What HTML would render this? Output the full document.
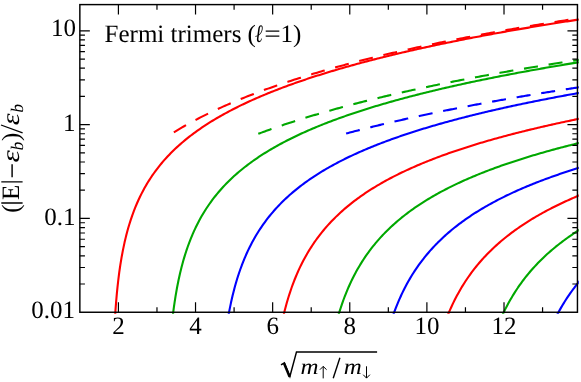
<!DOCTYPE html>
<html><head><meta charset="utf-8"><title>Fermi trimers</title>
<style>
html,body{margin:0;padding:0;background:#fff;}
svg{display:block;will-change:transform;text-rendering:geometricPrecision;font-family:"Liberation Serif",serif;font-size:25px;fill:#000;}
.c path{fill:none;stroke-width:2.1;stroke-linejoin:round;stroke-linecap:butt;}
.d path{fill:none;stroke-width:2.1;stroke-dasharray:14.1 10.81;stroke-linecap:butt;}
</style></head><body>
<svg width="581" height="382" viewBox="0 0 581 382">
<rect x="0" y="0" width="581" height="382" fill="#fff"/>
<defs><clipPath id="cp"><rect x="79.15" y="3.90" width="499.60" height="309.85"/></clipPath></defs>
<g class="d" clip-path="url(#cp)"><path d="M173.86 132.34 L175.91 131.09 L177.95 129.86 L180.00 128.65 L182.05 127.46 L184.09 126.28 L186.14 125.12 L188.19 123.98 L190.23 122.85 L192.28 121.74 L194.33 120.64 L196.37 119.56 L198.42 118.49 L200.46 117.44 L202.51 116.40 L204.56 115.37 L206.60 114.35 L208.65 113.35 L210.70 112.36 L212.74 111.38 L214.79 110.42 L216.84 109.46 L218.88 108.52 L220.93 107.58 L222.98 106.66 L225.02 105.75 L227.07 104.84 L229.12 103.95 L231.16 103.07 L233.21 102.20 L235.26 101.33 L237.30 100.48 L239.35 99.63 L241.40 98.79 L243.44 97.96 L245.49 97.14 L247.54 96.33 L249.58 95.53 L251.63 94.73 L253.68 93.94 L255.72 93.16 L257.77 92.38 L259.82 91.62 L261.86 90.86 L263.91 90.11 L265.96 89.36 L268.00 88.62 L270.05 87.89 L272.10 87.16 L274.14 86.44 L276.19 85.73 L278.24 85.02 L280.28 84.32 L282.33 83.63 L284.37 82.94 L286.42 82.26 L288.47 81.58 L290.51 80.91 L292.56 80.24 L294.61 79.58 L296.65 78.93 L298.70 78.27 L300.75 77.63 L302.79 76.99 L304.84 76.35 L306.89 75.72 L308.93 75.10 L310.98 74.48 L313.03 73.86 L315.07 73.25 L317.12 72.64 L319.17 72.04 L321.21 71.44 L323.26 70.85 L325.31 70.26 L327.35 69.68 L329.40 69.10 L331.45 68.52 L333.49 67.95 L335.54 67.38 L337.59 66.81 L339.63 66.25 L341.68 65.69 L343.73 65.14 L345.77 64.59 L347.82 64.05 L349.87 63.50 L351.91 62.97 L353.96 62.43 L356.01 61.90 L358.05 61.37 L360.10 60.85 L362.15 60.32 L364.19 59.81 L366.24 59.29 L368.29 58.78 L370.33 58.27 L372.38 57.77 L374.42 57.27 L376.47 56.77 L378.52 56.27 L380.56 55.78 L382.61 55.29 L384.66 54.80 L386.70 54.32 L388.75 53.83 L390.80 53.36 L392.84 52.88 L394.89 52.41 L396.94 51.94 L398.98 51.47 L401.03 51.00 L403.08 50.54 L405.12 50.08 L407.17 49.63 L409.22 49.17 L411.26 48.72 L413.31 48.27 L415.36 47.82 L417.40 47.38 L419.45 46.94 L421.50 46.50 L423.54 46.06 L425.59 45.62 L427.64 45.19 L429.68 44.76 L431.73 44.33 L433.78 43.91 L435.82 43.48 L437.87 43.06 L439.92 42.64 L441.96 42.23 L444.01 41.81 L446.06 41.40 L448.10 40.99 L450.15 40.58 L452.20 40.17 L454.24 39.77 L456.29 39.36 L458.33 38.96 L460.38 38.56 L462.43 38.17 L464.47 37.77 L466.52 37.38 L468.57 36.99 L470.61 36.60 L472.66 36.21 L474.71 35.82 L476.75 35.44 L478.80 35.06 L480.85 34.68 L482.89 34.30 L484.94 33.92 L486.99 33.55 L489.03 33.18 L491.08 32.80 L493.13 32.43 L495.17 32.07 L497.22 31.70 L499.27 31.33 L501.31 30.97 L503.36 30.61 L505.41 30.25 L507.45 29.89 L509.50 29.53 L511.55 29.18 L513.59 28.82 L515.64 28.47 L517.69 28.12 L519.73 27.77 L521.78 27.42 L523.83 27.08 L525.87 26.73 L527.92 26.39 L529.97 26.05 L532.01 25.71 L534.06 25.37 L536.11 25.03 L538.15 24.69 L540.20 24.36 L542.24 24.03 L544.29 23.69 L546.34 23.36 L548.38 23.03 L550.43 22.71 L552.48 22.38 L554.52 22.05 L556.57 21.73 L558.62 21.41 L560.66 21.08 L562.71 20.76 L564.76 20.44 L566.80 20.13 L568.85 19.81 L570.90 19.49 L572.94 19.18 L574.99 18.87 L577.04 18.56 L579.08 18.25 L581.13 17.94" stroke="#ff0000"/><path d="M258.27 133.82 L259.89 133.21 L261.51 132.61 L263.13 132.01 L264.76 131.41 L266.38 130.83 L268.00 130.24 L269.62 129.66 L271.25 129.08 L272.87 128.51 L274.49 127.94 L276.11 127.38 L277.74 126.82 L279.36 126.26 L280.98 125.70 L282.60 125.16 L284.23 124.61 L285.85 124.07 L287.47 123.53 L289.09 122.99 L290.72 122.46 L292.34 121.93 L293.96 121.41 L295.58 120.89 L297.21 120.37 L298.83 119.85 L300.45 119.34 L302.07 118.83 L303.70 118.33 L305.32 117.83 L306.94 117.33 L308.56 116.83 L310.18 116.34 L311.81 115.85 L313.43 115.36 L315.05 114.88 L316.67 114.39 L318.30 113.92 L319.92 113.44 L321.54 112.97 L323.16 112.50 L324.79 112.03 L326.41 111.56 L328.03 111.10 L329.65 110.64 L331.28 110.19 L332.90 109.73 L334.52 109.28 L336.14 108.83 L337.77 108.38 L339.39 107.94 L341.01 107.50 L342.63 107.06 L344.26 106.62 L345.88 106.18 L347.50 105.75 L349.12 105.32 L350.75 104.89 L352.37 104.47 L353.99 104.04 L355.61 103.62 L357.24 103.20 L358.86 102.78 L360.48 102.37 L362.10 101.95 L363.72 101.54 L365.35 101.13 L366.97 100.73 L368.59 100.32 L370.21 99.92 L371.84 99.52 L373.46 99.12 L375.08 98.72 L376.70 98.33 L378.33 97.94 L379.95 97.54 L381.57 97.15 L383.19 96.77 L384.82 96.38 L386.44 96.00 L388.06 95.62 L389.68 95.23 L391.31 94.86 L392.93 94.48 L394.55 94.10 L396.17 93.73 L397.80 93.36 L399.42 92.99 L401.04 92.62 L402.66 92.25 L404.29 91.89 L405.91 91.53 L407.53 91.16 L409.15 90.80 L410.78 90.45 L412.40 90.09 L414.02 89.73 L415.64 89.38 L417.26 89.03 L418.89 88.68 L420.51 88.33 L422.13 87.98 L423.75 87.63 L425.38 87.29 L427.00 86.94 L428.62 86.60 L430.24 86.26 L431.87 85.92 L433.49 85.59 L435.11 85.25 L436.73 84.91 L438.36 84.58 L439.98 84.25 L441.60 83.92 L443.22 83.59 L444.85 83.26 L446.47 82.93 L448.09 82.61 L449.71 82.28 L451.34 81.96 L452.96 81.64 L454.58 81.32 L456.20 81.00 L457.83 80.68 L459.45 80.36 L461.07 80.05 L462.69 79.73 L464.32 79.42 L465.94 79.11 L467.56 78.80 L469.18 78.49 L470.80 78.18 L472.43 77.87 L474.05 77.57 L475.67 77.26 L477.29 76.96 L478.92 76.66 L480.54 76.35 L482.16 76.05 L483.78 75.76 L485.41 75.46 L487.03 75.16 L488.65 74.86 L490.27 74.57 L491.90 74.27 L493.52 73.98 L495.14 73.69 L496.76 73.40 L498.39 73.11 L500.01 72.82 L501.63 72.53 L503.25 72.25 L504.88 71.96 L506.50 71.68 L508.12 71.39 L509.74 71.11 L511.37 70.83 L512.99 70.55 L514.61 70.27 L516.23 69.99 L517.86 69.71 L519.48 69.43 L521.10 69.16 L522.72 68.88 L524.35 68.61 L525.97 68.34 L527.59 68.06 L529.21 67.79 L530.83 67.52 L532.46 67.25 L534.08 66.98 L535.70 66.72 L537.32 66.45 L538.95 66.18 L540.57 65.92 L542.19 65.65 L543.81 65.39 L545.44 65.13 L547.06 64.87 L548.68 64.60 L550.30 64.34 L551.93 64.09 L553.55 63.83 L555.17 63.57 L556.79 63.31 L558.42 63.06 L560.04 62.80 L561.66 62.55 L563.28 62.29 L564.91 62.04 L566.53 61.79 L568.15 61.54 L569.77 61.29 L571.40 61.04 L573.02 60.79 L574.64 60.54 L576.26 60.29 L577.89 60.05 L579.51 59.80 L581.13 59.55" stroke="#00a800"/><path d="M346.11 133.54 L347.29 133.22 L348.47 132.91 L349.65 132.59 L350.83 132.28 L352.01 131.97 L353.19 131.66 L354.37 131.35 L355.55 131.05 L356.74 130.74 L357.92 130.44 L359.10 130.13 L360.28 129.83 L361.46 129.53 L362.64 129.23 L363.82 128.93 L365.00 128.63 L366.18 128.34 L367.37 128.04 L368.55 127.75 L369.73 127.45 L370.91 127.16 L372.09 126.87 L373.27 126.58 L374.45 126.29 L375.63 126.00 L376.81 125.72 L377.99 125.43 L379.18 125.14 L380.36 124.86 L381.54 124.58 L382.72 124.29 L383.90 124.01 L385.08 123.73 L386.26 123.45 L387.44 123.17 L388.62 122.90 L389.80 122.62 L390.99 122.34 L392.17 122.07 L393.35 121.80 L394.53 121.52 L395.71 121.25 L396.89 120.98 L398.07 120.71 L399.25 120.44 L400.43 120.17 L401.61 119.91 L402.80 119.64 L403.98 119.37 L405.16 119.11 L406.34 118.84 L407.52 118.58 L408.70 118.32 L409.88 118.06 L411.06 117.80 L412.24 117.54 L413.43 117.28 L414.61 117.02 L415.79 116.76 L416.97 116.51 L418.15 116.25 L419.33 115.99 L420.51 115.74 L421.69 115.49 L422.87 115.23 L424.05 114.98 L425.24 114.73 L426.42 114.48 L427.60 114.23 L428.78 113.98 L429.96 113.74 L431.14 113.49 L432.32 113.24 L433.50 113.00 L434.68 112.75 L435.86 112.51 L437.05 112.26 L438.23 112.02 L439.41 111.78 L440.59 111.54 L441.77 111.30 L442.95 111.06 L444.13 110.82 L445.31 110.58 L446.49 110.34 L447.67 110.10 L448.86 109.87 L450.04 109.63 L451.22 109.40 L452.40 109.16 L453.58 108.93 L454.76 108.70 L455.94 108.46 L457.12 108.23 L458.30 108.00 L459.48 107.77 L460.67 107.54 L461.85 107.31 L463.03 107.08 L464.21 106.86 L465.39 106.63 L466.57 106.40 L467.75 106.18 L468.93 105.95 L470.11 105.73 L471.30 105.50 L472.48 105.28 L473.66 105.05 L474.84 104.83 L476.02 104.61 L477.20 104.39 L478.38 104.17 L479.56 103.95 L480.74 103.73 L481.92 103.51 L483.11 103.29 L484.29 103.08 L485.47 102.86 L486.65 102.64 L487.83 102.43 L489.01 102.21 L490.19 102.00 L491.37 101.78 L492.55 101.57 L493.73 101.36 L494.92 101.14 L496.10 100.93 L497.28 100.72 L498.46 100.51 L499.64 100.30 L500.82 100.09 L502.00 99.88 L503.18 99.67 L504.36 99.46 L505.54 99.26 L506.73 99.05 L507.91 98.84 L509.09 98.64 L510.27 98.43 L511.45 98.23 L512.63 98.02 L513.81 97.82 L514.99 97.62 L516.17 97.41 L517.35 97.21 L518.54 97.01 L519.72 96.81 L520.90 96.61 L522.08 96.41 L523.26 96.21 L524.44 96.01 L525.62 95.81 L526.80 95.61 L527.98 95.41 L529.17 95.21 L530.35 95.02 L531.53 94.82 L532.71 94.62 L533.89 94.43 L535.07 94.23 L536.25 94.04 L537.43 93.85 L538.61 93.65 L539.79 93.46 L540.98 93.27 L542.16 93.07 L543.34 92.88 L544.52 92.69 L545.70 92.50 L546.88 92.31 L548.06 92.12 L549.24 91.93 L550.42 91.74 L551.60 91.55 L552.79 91.36 L553.97 91.17 L555.15 90.99 L556.33 90.80 L557.51 90.61 L558.69 90.43 L559.87 90.24 L561.05 90.06 L562.23 89.87 L563.41 89.69 L564.60 89.50 L565.78 89.32 L566.96 89.14 L568.14 88.95 L569.32 88.77 L570.50 88.59 L571.68 88.41 L572.86 88.23 L574.04 88.04 L575.22 87.86 L576.41 87.68 L577.59 87.50 L578.77 87.33 L579.95 87.15 L581.13 86.97" stroke="#0000ff"/></g>
<g class="c" clip-path="url(#cp)"><path d="M113.78 341.74 L113.83 340.49 L114.16 332.96 L114.54 325.43 L114.98 317.90 L115.33 312.53 L115.47 310.37 L116.04 302.84 L116.69 295.31 L116.87 293.36 L117.42 287.78 L118.26 280.25 L118.41 279.01 L119.21 272.72 L119.95 267.50 L120.30 265.19 L121.49 257.87 L121.53 257.66 L122.93 250.13 L123.04 249.60 L124.52 242.60 L124.58 242.34 L126.12 235.87 L126.33 235.07 L127.66 230.03 L128.37 227.54 L129.21 224.72 L130.75 219.83 L132.29 215.32 L133.83 211.12 L135.38 207.19 L136.92 203.51 L138.46 200.04 L140.00 196.75 L141.55 193.64 L143.09 190.68 L144.63 187.86 L146.17 185.16 L147.72 182.58 L149.26 180.11 L150.80 177.73 L152.34 175.44 L153.89 173.23 L155.43 171.10 L156.97 169.04 L158.51 167.05 L160.05 165.12 L161.60 163.26 L163.14 161.44 L164.68 159.68 L166.22 157.97 L167.77 156.30 L169.31 154.67 L170.85 153.09 L172.39 151.55 L173.94 150.04 L175.48 148.57 L177.02 147.14 L178.56 145.73 L180.11 144.36 L181.65 143.02 L183.19 141.70 L184.73 140.41 L186.28 139.15 L187.82 137.91 L189.36 136.69 L190.90 135.50 L192.45 134.33 L193.99 133.18 L195.53 132.05 L197.07 130.94 L198.61 129.85 L200.16 128.78 L201.70 127.72 L203.24 126.68 L204.78 125.66 L206.33 124.65 L207.87 123.66 L209.41 122.68 L210.95 121.72 L212.50 120.77 L214.04 119.84 L215.58 118.92 L217.12 118.01 L218.67 117.11 L220.21 116.23 L221.75 115.35 L223.29 114.49 L224.84 113.64 L226.38 112.80 L227.92 111.97 L229.46 111.15 L231.01 110.34 L232.55 109.54 L234.09 108.75 L235.63 107.97 L237.17 107.20 L238.72 106.43 L240.26 105.68 L241.80 104.93 L243.34 104.19 L244.89 103.46 L246.43 102.73 L247.97 102.02 L249.51 101.31 L251.06 100.61 L252.60 99.91 L254.14 99.23 L255.68 98.55 L257.23 97.87 L258.77 97.20 L260.31 96.54 L261.85 95.89 L263.40 95.24 L264.94 94.60 L266.48 93.96 L268.02 93.33 L269.57 92.70 L271.11 92.08 L272.65 91.47 L274.19 90.86 L275.73 90.25 L277.28 89.65 L278.82 89.06 L280.36 88.47 L281.90 87.89 L283.45 87.31 L284.99 86.73 L286.53 86.16 L288.07 85.60 L289.62 85.04 L291.16 84.48 L292.70 83.93 L294.24 83.38 L295.79 82.83 L297.33 82.29 L298.87 81.76 L300.41 81.22 L301.96 80.70 L303.50 80.17 L305.04 79.65 L306.58 79.13 L308.13 78.62 L309.67 78.11 L311.21 77.61 L312.75 77.10 L314.29 76.60 L315.84 76.11 L317.38 75.62 L318.92 75.13 L320.46 74.64 L322.01 74.16 L323.55 73.68 L325.09 73.20 L326.63 72.73 L328.18 72.26 L329.72 71.79 L331.26 71.33 L332.80 70.87 L334.35 70.41 L335.89 69.95 L337.43 69.50 L338.97 69.05 L340.52 68.60 L342.06 68.16 L343.60 67.71 L345.14 67.27 L346.69 66.84 L348.23 66.40 L349.77 65.97 L351.31 65.54 L352.85 65.12 L354.40 64.69 L355.94 64.27 L357.48 63.85 L359.02 63.43 L360.57 63.02 L362.11 62.60 L363.65 62.19 L365.19 61.79 L366.74 61.38 L368.28 60.98 L369.82 60.57 L371.36 60.17 L372.91 59.78 L374.45 59.38 L375.99 58.99 L377.53 58.60 L379.08 58.21 L380.62 57.82 L382.16 57.44 L383.70 57.05 L385.25 56.67 L386.79 56.29 L388.33 55.91 L389.87 55.54 L391.41 55.16 L392.96 54.79 L394.50 54.42 L396.04 54.05 L397.58 53.69 L399.13 53.32 L400.67 52.96 L402.21 52.60 L403.75 52.24 L405.30 51.88 L406.84 51.53 L408.38 51.17 L409.92 50.82 L411.47 50.47 L413.01 50.12 L414.55 49.77 L416.09 49.42 L417.64 49.08 L419.18 48.73 L420.72 48.39 L422.26 48.05 L423.81 47.71 L425.35 47.38 L426.89 47.04 L428.43 46.70 L429.97 46.37 L431.52 46.04 L433.06 45.71 L434.60 45.38 L436.14 45.05 L437.69 44.73 L439.23 44.40 L440.77 44.08 L442.31 43.76 L443.86 43.44 L445.40 43.12 L446.94 42.80 L448.48 42.49 L450.03 42.17 L451.57 41.86 L453.11 41.54 L454.65 41.23 L456.20 40.92 L457.74 40.61 L459.28 40.31 L460.82 40.00 L462.37 39.69 L463.91 39.39 L465.45 39.09 L466.99 38.79 L468.53 38.48 L470.08 38.19 L471.62 37.89 L473.16 37.59 L474.70 37.29 L476.25 37.00 L477.79 36.71 L479.33 36.41 L480.87 36.12 L482.42 35.83 L483.96 35.54 L485.50 35.25 L487.04 34.97 L488.59 34.68 L490.13 34.40 L491.67 34.11 L493.21 33.83 L494.76 33.55 L496.30 33.27 L497.84 32.99 L499.38 32.71 L500.93 32.43 L502.47 32.15 L504.01 31.88 L505.55 31.60 L507.09 31.33 L508.64 31.06 L510.18 30.78 L511.72 30.51 L513.26 30.24 L514.81 29.97 L516.35 29.71 L517.89 29.44 L519.43 29.17 L520.98 28.91 L522.52 28.64 L524.06 28.38 L525.60 28.11 L527.15 27.85 L528.69 27.59 L530.23 27.33 L531.77 27.07 L533.32 26.81 L534.86 26.56 L536.40 26.30 L537.94 26.04 L539.49 25.79 L541.03 25.53 L542.57 25.28 L544.11 25.03 L545.65 24.78 L547.20 24.53 L548.74 24.28 L550.28 24.03 L551.82 23.78 L553.37 23.53 L554.91 23.28 L556.45 23.04 L557.99 22.79 L559.54 22.55 L561.08 22.30 L562.62 22.06 L564.16 21.82 L565.71 21.58 L567.25 21.34 L568.79 21.10 L570.33 20.86 L571.88 20.62 L573.42 20.38 L574.96 20.14 L576.50 19.91 L578.05 19.67 L579.59 19.44" stroke="#ff0000"/><path d="M170.34 340.49 L170.85 334.51 L170.99 332.96 L171.72 325.43 L172.39 319.21 L172.54 317.90 L173.47 310.37 L173.94 306.91 L174.52 302.84 L175.48 296.62 L175.69 295.31 L177.02 287.78 L177.02 287.76 L178.51 280.25 L178.56 279.98 L180.11 273.04 L180.18 272.72 L181.65 266.79 L182.07 265.19 L183.19 261.09 L184.19 257.66 L184.73 255.85 L186.28 251.02 L186.57 250.13 L187.82 246.52 L189.26 242.60 L189.36 242.32 L190.90 238.39 L192.28 235.07 L192.45 234.68 L193.99 231.18 L195.53 227.86 L195.68 227.54 L197.07 224.71 L198.61 221.71 L200.16 218.85 L201.70 216.11 L203.24 213.49 L204.78 210.97 L206.33 208.55 L207.87 206.22 L209.41 203.98 L210.95 201.81 L212.50 199.72 L214.04 197.70 L215.58 195.74 L217.12 193.84 L218.67 192.00 L220.21 190.21 L221.75 188.47 L223.29 186.78 L224.84 185.13 L226.38 183.53 L227.92 181.97 L229.46 180.45 L231.01 178.96 L232.55 177.51 L234.09 176.09 L235.63 174.71 L237.17 173.35 L238.72 172.03 L240.26 170.73 L241.80 169.46 L243.34 168.21 L244.89 166.99 L246.43 165.80 L247.97 164.62 L249.51 163.47 L251.06 162.34 L252.60 161.23 L254.14 160.14 L255.68 159.07 L257.23 158.01 L258.77 156.98 L260.31 155.96 L261.85 154.96 L263.40 153.97 L264.94 153.00 L266.48 152.04 L268.02 151.10 L269.57 150.17 L271.11 149.26 L272.65 148.36 L274.19 147.47 L275.73 146.60 L277.28 145.73 L278.82 144.88 L280.36 144.04 L281.90 143.21 L283.45 142.39 L284.99 141.59 L286.53 140.79 L288.07 140.00 L289.62 139.22 L291.16 138.46 L292.70 137.70 L294.24 136.95 L295.79 136.21 L297.33 135.47 L298.87 134.75 L300.41 134.03 L301.96 133.32 L303.50 132.62 L305.04 131.93 L306.58 131.25 L308.13 130.57 L309.67 129.90 L311.21 129.23 L312.75 128.58 L314.29 127.93 L315.84 127.28 L317.38 126.64 L318.92 126.01 L320.46 125.39 L322.01 124.77 L323.55 124.15 L325.09 123.55 L326.63 122.94 L328.18 122.35 L329.72 121.76 L331.26 121.17 L332.80 120.59 L334.35 120.02 L335.89 119.45 L337.43 118.88 L338.97 118.32 L340.52 117.76 L342.06 117.21 L343.60 116.67 L345.14 116.12 L346.69 115.59 L348.23 115.05 L349.77 114.52 L351.31 114.00 L352.85 113.48 L354.40 112.96 L355.94 112.45 L357.48 111.94 L359.02 111.44 L360.57 110.93 L362.11 110.44 L363.65 109.94 L365.19 109.45 L366.74 108.97 L368.28 108.48 L369.82 108.00 L371.36 107.53 L372.91 107.06 L374.45 106.59 L375.99 106.12 L377.53 105.66 L379.08 105.20 L380.62 104.74 L382.16 104.29 L383.70 103.84 L385.25 103.39 L386.79 102.94 L388.33 102.50 L389.87 102.06 L391.41 101.63 L392.96 101.19 L394.50 100.76 L396.04 100.34 L397.58 99.91 L399.13 99.49 L400.67 99.07 L402.21 98.65 L403.75 98.24 L405.30 97.82 L406.84 97.41 L408.38 97.01 L409.92 96.60 L411.47 96.20 L413.01 95.80 L414.55 95.40 L416.09 95.00 L417.64 94.61 L419.18 94.22 L420.72 93.83 L422.26 93.44 L423.81 93.06 L425.35 92.67 L426.89 92.29 L428.43 91.92 L429.97 91.54 L431.52 91.16 L433.06 90.79 L434.60 90.42 L436.14 90.05 L437.69 89.69 L439.23 89.32 L440.77 88.96 L442.31 88.60 L443.86 88.24 L445.40 87.88 L446.94 87.53 L448.48 87.17 L450.03 86.82 L451.57 86.47 L453.11 86.12 L454.65 85.78 L456.20 85.43 L457.74 85.09 L459.28 84.75 L460.82 84.41 L462.37 84.07 L463.91 83.73 L465.45 83.39 L466.99 83.06 L468.53 82.73 L470.08 82.40 L471.62 82.07 L473.16 81.74 L474.70 81.42 L476.25 81.09 L477.79 80.77 L479.33 80.45 L480.87 80.13 L482.42 79.81 L483.96 79.49 L485.50 79.18 L487.04 78.86 L488.59 78.55 L490.13 78.24 L491.67 77.93 L493.21 77.62 L494.76 77.31 L496.30 77.00 L497.84 76.70 L499.38 76.39 L500.93 76.09 L502.47 75.79 L504.01 75.49 L505.55 75.19 L507.09 74.89 L508.64 74.60 L510.18 74.30 L511.72 74.01 L513.26 73.72 L514.81 73.42 L516.35 73.13 L517.89 72.84 L519.43 72.56 L520.98 72.27 L522.52 71.98 L524.06 71.70 L525.60 71.42 L527.15 71.13 L528.69 70.85 L530.23 70.57 L531.77 70.29 L533.32 70.01 L534.86 69.74 L536.40 69.46 L537.94 69.19 L539.49 68.91 L541.03 68.64 L542.57 68.37 L544.11 68.10 L545.65 67.83 L547.20 67.56 L548.74 67.29 L550.28 67.02 L551.82 66.76 L553.37 66.49 L554.91 66.23 L556.45 65.97 L557.99 65.70 L559.54 65.44 L561.08 65.18 L562.62 64.92 L564.16 64.66 L565.71 64.41 L567.25 64.15 L568.79 63.90 L570.33 63.64 L571.88 63.39 L573.42 63.13 L574.96 62.88 L576.50 62.63 L578.05 62.38 L579.59 62.13" stroke="#00a800"/><path d="M224.74 340.49 L224.84 339.75 L225.72 332.96 L226.38 328.34 L226.82 325.43 L227.92 318.61 L228.04 317.90 L229.41 310.37 L229.46 310.12 L230.95 302.84 L231.01 302.58 L232.55 295.80 L232.67 295.31 L234.09 289.65 L234.59 287.78 L235.63 284.01 L236.74 280.25 L237.17 278.81 L238.72 273.99 L239.14 272.72 L240.26 269.49 L241.80 265.28 L241.84 265.19 L243.34 261.31 L244.85 257.66 L244.89 257.58 L246.43 254.04 L247.97 250.68 L248.23 250.13 L249.51 247.49 L251.06 244.44 L252.03 242.60 L252.60 241.53 L254.14 238.75 L255.68 236.08 L256.28 235.07 L257.23 233.51 L258.77 231.05 L260.31 228.67 L261.07 227.54 L261.85 226.38 L263.40 224.17 L264.94 222.03 L266.48 219.96 L268.02 217.96 L269.57 216.02 L271.11 214.13 L272.65 212.31 L274.19 210.53 L275.73 208.80 L277.28 207.11 L278.82 205.48 L280.36 203.88 L281.90 202.32 L283.45 200.80 L284.99 199.32 L286.53 197.87 L288.07 196.45 L289.62 195.07 L291.16 193.71 L292.70 192.38 L294.24 191.09 L295.79 189.82 L297.33 188.57 L298.87 187.35 L300.41 186.15 L301.96 184.97 L303.50 183.82 L305.04 182.69 L306.58 181.58 L308.13 180.49 L309.67 179.41 L311.21 178.36 L312.75 177.32 L314.29 176.30 L315.84 175.30 L317.38 174.31 L318.92 173.34 L320.46 172.38 L322.01 171.44 L323.55 170.51 L325.09 169.60 L326.63 168.70 L328.18 167.81 L329.72 166.94 L331.26 166.07 L332.80 165.22 L334.35 164.38 L335.89 163.55 L337.43 162.74 L338.97 161.93 L340.52 161.13 L342.06 160.35 L343.60 159.57 L345.14 158.81 L346.69 158.05 L348.23 157.30 L349.77 156.56 L351.31 155.83 L352.85 155.11 L354.40 154.40 L355.94 153.69 L357.48 152.99 L359.02 152.30 L360.57 151.62 L362.11 150.95 L363.65 150.28 L365.19 149.62 L366.74 148.97 L368.28 148.32 L369.82 147.68 L371.36 147.05 L372.91 146.42 L374.45 145.80 L375.99 145.18 L377.53 144.57 L379.08 143.97 L380.62 143.37 L382.16 142.78 L383.70 142.20 L385.25 141.62 L386.79 141.04 L388.33 140.47 L389.87 139.91 L391.41 139.35 L392.96 138.79 L394.50 138.24 L396.04 137.69 L397.58 137.15 L399.13 136.62 L400.67 136.09 L402.21 135.56 L403.75 135.04 L405.30 134.52 L406.84 134.00 L408.38 133.49 L409.92 132.99 L411.47 132.48 L413.01 131.99 L414.55 131.49 L416.09 131.00 L417.64 130.51 L419.18 130.03 L420.72 129.55 L422.26 129.08 L423.81 128.60 L425.35 128.13 L426.89 127.67 L428.43 127.21 L429.97 126.75 L431.52 126.29 L433.06 125.84 L434.60 125.39 L436.14 124.94 L437.69 124.50 L439.23 124.06 L440.77 123.62 L442.31 123.19 L443.86 122.76 L445.40 122.33 L446.94 121.90 L448.48 121.48 L450.03 121.06 L451.57 120.64 L453.11 120.23 L454.65 119.82 L456.20 119.41 L457.74 119.00 L459.28 118.60 L460.82 118.19 L462.37 117.79 L463.91 117.40 L465.45 117.00 L466.99 116.61 L468.53 116.22 L470.08 115.83 L471.62 115.45 L473.16 115.06 L474.70 114.68 L476.25 114.30 L477.79 113.93 L479.33 113.55 L480.87 113.18 L482.42 112.81 L483.96 112.44 L485.50 112.08 L487.04 111.71 L488.59 111.35 L490.13 110.99 L491.67 110.63 L493.21 110.27 L494.76 109.92 L496.30 109.57 L497.84 109.22 L499.38 108.87 L500.93 108.52 L502.47 108.18 L504.01 107.83 L505.55 107.49 L507.09 107.15 L508.64 106.81 L510.18 106.48 L511.72 106.14 L513.26 105.81 L514.81 105.48 L516.35 105.15 L517.89 104.82 L519.43 104.49 L520.98 104.17 L522.52 103.84 L524.06 103.52 L525.60 103.20 L527.15 102.88 L528.69 102.56 L530.23 102.25 L531.77 101.93 L533.32 101.62 L534.86 101.31 L536.40 101.00 L537.94 100.69 L539.49 100.38 L541.03 100.08 L542.57 99.77 L544.11 99.47 L545.65 99.17 L547.20 98.87 L548.74 98.57 L550.28 98.27 L551.82 97.97 L553.37 97.68 L554.91 97.38 L556.45 97.09 L557.99 96.80 L559.54 96.51 L561.08 96.22 L562.62 95.93 L564.16 95.65 L565.71 95.36 L567.25 95.08 L568.79 94.79 L570.33 94.51 L571.88 94.23 L573.42 93.95 L574.96 93.67 L576.50 93.40 L578.05 93.12 L579.59 92.84" stroke="#0000ff"/><path d="M277.28 348.90 L278.58 340.49 L278.82 339.03 L279.89 332.96 L280.36 330.41 L281.34 325.43 L281.90 322.74 L282.97 317.90 L283.45 315.84 L284.78 310.37 L284.99 309.56 L286.53 303.80 L286.80 302.84 L288.07 298.49 L289.06 295.31 L289.62 293.56 L291.16 288.96 L291.57 287.78 L292.70 284.64 L294.24 280.58 L294.37 280.25 L295.79 276.75 L297.33 273.12 L297.50 272.72 L298.87 269.68 L300.41 266.40 L301.00 265.19 L301.96 263.27 L303.50 260.28 L304.91 257.66 L305.04 257.42 L306.58 254.68 L308.13 252.04 L309.28 250.13 L309.67 249.51 L311.21 247.07 L312.75 244.71 L314.18 242.60 L314.29 242.44 L315.84 240.24 L317.38 238.11 L318.92 236.05 L319.67 235.07 L320.46 234.05 L322.01 232.11 L323.55 230.23 L325.09 228.40 L325.83 227.54 L326.63 226.62 L328.18 224.89 L329.72 223.21 L331.26 221.56 L332.80 219.96 L334.35 218.40 L335.89 216.87 L337.43 215.38 L338.97 213.92 L340.52 212.50 L342.06 211.11 L343.60 209.75 L345.14 208.41 L346.69 207.11 L348.23 205.83 L349.77 204.57 L351.31 203.34 L352.85 202.13 L354.40 200.95 L355.94 199.79 L357.48 198.65 L359.02 197.53 L360.57 196.43 L362.11 195.35 L363.65 194.28 L365.19 193.24 L366.74 192.21 L368.28 191.20 L369.82 190.20 L371.36 189.22 L372.91 188.26 L374.45 187.31 L375.99 186.37 L377.53 185.45 L379.08 184.54 L380.62 183.65 L382.16 182.77 L383.70 181.90 L385.25 181.04 L386.79 180.19 L388.33 179.36 L389.87 178.54 L391.41 177.72 L392.96 176.92 L394.50 176.13 L396.04 175.35 L397.58 174.58 L399.13 173.81 L400.67 173.06 L402.21 172.32 L403.75 171.58 L405.30 170.85 L406.84 170.14 L408.38 169.43 L409.92 168.72 L411.47 168.03 L413.01 167.34 L414.55 166.67 L416.09 165.99 L417.64 165.33 L419.18 164.67 L420.72 164.02 L422.26 163.38 L423.81 162.74 L425.35 162.11 L426.89 161.49 L428.43 160.87 L429.97 160.26 L431.52 159.66 L433.06 159.06 L434.60 158.46 L436.14 157.87 L437.69 157.29 L439.23 156.71 L440.77 156.14 L442.31 155.57 L443.86 155.01 L445.40 154.46 L446.94 153.91 L448.48 153.36 L450.03 152.82 L451.57 152.28 L453.11 151.75 L454.65 151.22 L456.20 150.70 L457.74 150.18 L459.28 149.66 L460.82 149.15 L462.37 148.64 L463.91 148.14 L465.45 147.64 L466.99 147.15 L468.53 146.66 L470.08 146.17 L471.62 145.69 L473.16 145.21 L474.70 144.73 L476.25 144.26 L477.79 143.79 L479.33 143.33 L480.87 142.86 L482.42 142.41 L483.96 141.95 L485.50 141.50 L487.04 141.05 L488.59 140.61 L490.13 140.16 L491.67 139.72 L493.21 139.29 L494.76 138.86 L496.30 138.43 L497.84 138.00 L499.38 137.57 L500.93 137.15 L502.47 136.73 L504.01 136.32 L505.55 135.91 L507.09 135.50 L508.64 135.09 L510.18 134.68 L511.72 134.28 L513.26 133.88 L514.81 133.48 L516.35 133.09 L517.89 132.69 L519.43 132.30 L520.98 131.92 L522.52 131.53 L524.06 131.15 L525.60 130.77 L527.15 130.39 L528.69 130.01 L530.23 129.64 L531.77 129.27 L533.32 128.90 L534.86 128.53 L536.40 128.16 L537.94 127.80 L539.49 127.44 L541.03 127.08 L542.57 126.72 L544.11 126.36 L545.65 126.01 L547.20 125.66 L548.74 125.31 L550.28 124.96 L551.82 124.62 L553.37 124.27 L554.91 123.93 L556.45 123.59 L557.99 123.25 L559.54 122.91 L561.08 122.58 L562.62 122.25 L564.16 121.91 L565.71 121.58 L567.25 121.26 L568.79 120.93 L570.33 120.61 L571.88 120.28 L573.42 119.96 L574.96 119.64 L576.50 119.32 L578.05 119.00 L579.59 118.69" stroke="#ff0000"/><path d="M331.26 345.09 L332.18 340.49 L332.80 337.52 L333.81 332.96 L334.35 330.67 L335.63 325.43 L335.89 324.43 L337.43 318.69 L337.66 317.90 L338.97 313.39 L339.91 310.37 L340.52 308.46 L342.06 303.84 L342.41 302.84 L343.60 299.51 L345.14 295.44 L345.19 295.31 L346.69 291.58 L348.23 287.93 L348.29 287.78 L349.77 284.46 L351.31 281.16 L351.75 280.25 L352.85 278.00 L354.40 274.98 L355.60 272.72 L355.94 272.09 L357.48 269.32 L359.02 266.65 L359.90 265.19 L360.57 264.09 L362.11 261.61 L363.65 259.23 L364.70 257.66 L365.19 256.92 L366.74 254.69 L368.28 252.54 L369.82 250.44 L370.06 250.13 L371.36 248.42 L372.91 246.45 L374.45 244.54 L375.99 242.68 L376.06 242.60 L377.53 240.87 L379.08 239.11 L380.62 237.40 L382.16 235.73 L382.78 235.07 L383.70 234.10 L385.25 232.51 L386.79 230.96 L388.33 229.44 L389.87 227.96 L390.32 227.54 L391.41 226.51 L392.96 225.10 L394.50 223.71 L396.04 222.35 L397.58 221.02 L399.13 219.72 L400.67 218.44 L402.21 217.19 L403.75 215.96 L405.30 214.76 L406.84 213.58 L408.38 212.42 L409.92 211.27 L411.47 210.15 L413.01 209.05 L414.55 207.97 L416.09 206.91 L417.64 205.86 L419.18 204.83 L420.72 203.82 L422.26 202.82 L423.81 201.84 L425.35 200.87 L426.89 199.92 L428.43 198.99 L429.97 198.06 L431.52 197.15 L433.06 196.25 L434.60 195.37 L436.14 194.50 L437.69 193.64 L439.23 192.79 L440.77 191.95 L442.31 191.12 L443.86 190.31 L445.40 189.50 L446.94 188.71 L448.48 187.93 L450.03 187.15 L451.57 186.39 L453.11 185.63 L454.65 184.88 L456.20 184.14 L457.74 183.42 L459.28 182.69 L460.82 181.98 L462.37 181.28 L463.91 180.58 L465.45 179.89 L466.99 179.21 L468.53 178.54 L470.08 177.87 L471.62 177.21 L473.16 176.56 L474.70 175.91 L476.25 175.27 L477.79 174.64 L479.33 174.02 L480.87 173.40 L482.42 172.78 L483.96 172.17 L485.50 171.57 L487.04 170.98 L488.59 170.39 L490.13 169.80 L491.67 169.22 L493.21 168.65 L494.76 168.08 L496.30 167.52 L497.84 166.96 L499.38 166.41 L500.93 165.86 L502.47 165.32 L504.01 164.78 L505.55 164.24 L507.09 163.71 L508.64 163.19 L510.18 162.67 L511.72 162.15 L513.26 161.64 L514.81 161.13 L516.35 160.63 L517.89 160.13 L519.43 159.63 L520.98 159.14 L522.52 158.65 L524.06 158.17 L525.60 157.69 L527.15 157.21 L528.69 156.74 L530.23 156.27 L531.77 155.81 L533.32 155.34 L534.86 154.89 L536.40 154.43 L537.94 153.98 L539.49 153.53 L541.03 153.08 L542.57 152.64 L544.11 152.20 L545.65 151.77 L547.20 151.33 L548.74 150.90 L550.28 150.48 L551.82 150.05 L553.37 149.63 L554.91 149.21 L556.45 148.80 L557.99 148.38 L559.54 147.97 L561.08 147.57 L562.62 147.16 L564.16 146.76 L565.71 146.36 L567.25 145.96 L568.79 145.57 L570.33 145.18 L571.88 144.79 L573.42 144.40 L574.96 144.01 L576.50 143.63 L578.05 143.25 L579.59 142.87" stroke="#00a800"/><path d="M383.70 348.89 L385.25 342.19 L385.66 340.49 L386.79 336.07 L387.62 332.96 L388.33 330.42 L389.80 325.43 L389.87 325.18 L391.41 320.30 L392.21 317.90 L392.96 315.73 L394.50 311.44 L394.90 310.37 L396.04 307.38 L397.58 303.55 L397.88 302.84 L399.13 299.91 L400.67 296.45 L401.19 295.31 L402.21 293.15 L403.75 289.99 L404.88 287.78 L405.30 286.98 L406.84 284.08 L408.38 281.30 L408.98 280.25 L409.92 278.63 L411.47 276.06 L413.01 273.57 L413.55 272.72 L414.55 271.18 L416.09 268.86 L417.64 266.62 L418.65 265.19 L419.18 264.45 L420.72 262.35 L422.26 260.30 L423.81 258.32 L424.33 257.66 L425.35 256.40 L426.89 254.52 L428.43 252.70 L429.97 250.93 L430.68 250.13 L431.52 249.20 L433.06 247.51 L434.60 245.87 L436.14 244.26 L437.69 242.70 L437.78 242.60 L439.23 241.17 L440.77 239.67 L442.31 238.21 L443.86 236.77 L445.40 235.37 L445.74 235.07 L446.94 234.00 L448.48 232.65 L450.03 231.34 L451.57 230.05 L453.11 228.78 L454.65 227.54 L454.65 227.54 L456.20 226.32 L457.74 225.12 L459.28 223.95 L460.82 222.79 L462.37 221.66 L463.91 220.54 L465.45 219.45 L466.99 218.37 L468.53 217.31 L470.08 216.27 L471.62 215.24 L473.16 214.23 L474.70 213.24 L476.25 212.26 L477.79 211.30 L479.33 210.35 L480.87 209.41 L482.42 208.49 L483.96 207.58 L485.50 206.68 L487.04 205.80 L488.59 204.93 L490.13 204.07 L491.67 203.22 L493.21 202.38 L494.76 201.56 L496.30 200.74 L497.84 199.94 L499.38 199.14 L500.93 198.36 L502.47 197.58 L504.01 196.82 L505.55 196.06 L507.09 195.31 L508.64 194.58 L510.18 193.85 L511.72 193.13 L513.26 192.41 L514.81 191.71 L516.35 191.01 L517.89 190.32 L519.43 189.64 L520.98 188.96 L522.52 188.30 L524.06 187.63 L525.60 186.98 L527.15 186.33 L528.69 185.69 L530.23 185.06 L531.77 184.43 L533.32 183.81 L534.86 183.20 L536.40 182.59 L537.94 181.99 L539.49 181.39 L541.03 180.80 L542.57 180.21 L544.11 179.63 L545.65 179.06 L547.20 178.49 L548.74 177.93 L550.28 177.37 L551.82 176.81 L553.37 176.26 L554.91 175.72 L556.45 175.18 L557.99 174.64 L559.54 174.11 L561.08 173.59 L562.62 173.07 L564.16 172.55 L565.71 172.04 L567.25 171.53 L568.79 171.02 L570.33 170.52 L571.88 170.03 L573.42 169.53 L574.96 169.05 L576.50 168.56 L578.05 168.08 L579.59 167.60" stroke="#0000ff"/><path d="M437.69 345.48 L439.08 340.49 L439.23 339.96 L440.77 334.82 L441.36 332.96 L442.31 330.03 L443.86 325.52 L443.89 325.43 L445.40 321.29 L446.70 317.90 L446.94 317.28 L448.48 313.49 L449.81 310.37 L450.03 309.88 L451.57 306.45 L453.11 303.17 L453.27 302.84 L454.65 300.04 L456.20 297.04 L457.11 295.31 L457.74 294.16 L459.28 291.39 L460.82 288.72 L461.38 287.78 L462.37 286.16 L463.91 283.68 L465.45 281.28 L466.13 280.25 L466.99 278.97 L468.53 276.73 L470.08 274.55 L471.42 272.72 L471.62 272.45 L473.16 270.40 L474.70 268.42 L476.25 266.49 L477.31 265.19 L477.79 264.61 L479.33 262.78 L480.87 261.00 L482.42 259.27 L483.88 257.66 L483.96 257.57 L485.50 255.92 L487.04 254.31 L488.59 252.73 L490.13 251.20 L491.22 250.13 L491.67 249.69 L493.21 248.22 L494.76 246.78 L496.30 245.37 L497.84 243.99 L499.38 242.63 L499.42 242.60 L500.93 241.31 L502.47 240.00 L504.01 238.73 L505.55 237.48 L507.09 236.25 L508.60 235.07 L508.64 235.04 L510.18 233.86 L511.72 232.69 L513.26 231.55 L514.81 230.43 L516.35 229.32 L517.89 228.24 L518.89 227.54 L519.43 227.17 L520.98 226.12 L522.52 225.08 L524.06 224.06 L525.60 223.06 L527.15 222.07 L528.69 221.10 L530.23 220.14 L531.77 219.20 L533.32 218.27 L534.86 217.35 L536.40 216.44 L537.94 215.55 L539.49 214.67 L541.03 213.80 L542.57 212.95 L544.11 212.10 L545.65 211.27 L547.20 210.44 L548.74 209.63 L550.28 208.83 L551.82 208.04 L553.37 207.25 L554.91 206.48 L556.45 205.72 L557.99 204.96 L559.54 204.22 L561.08 203.48 L562.62 202.75 L564.16 202.03 L565.71 201.32 L567.25 200.61 L568.79 199.92 L570.33 199.23 L571.88 198.55 L573.42 197.87 L574.96 197.20 L576.50 196.54 L578.05 195.89 L579.59 195.25" stroke="#ff0000"/><path d="M490.13 347.92 L491.67 342.90 L492.45 340.49 L493.21 338.20 L494.76 333.78 L495.05 332.96 L496.30 329.62 L497.84 325.68 L497.94 325.43 L499.38 321.94 L500.93 318.38 L501.14 317.90 L502.47 314.98 L504.01 311.74 L504.69 310.37 L505.55 308.64 L507.09 305.66 L508.62 302.84 L508.64 302.81 L510.18 300.06 L511.72 297.41 L512.99 295.31 L513.26 294.85 L514.81 292.39 L516.35 290.01 L517.84 287.78 L517.89 287.70 L519.43 285.47 L520.98 283.30 L522.52 281.20 L523.23 280.25 L524.06 279.16 L525.60 277.18 L527.15 275.25 L528.69 273.37 L529.23 272.72 L530.23 271.54 L531.77 269.76 L533.32 268.03 L534.86 266.33 L535.92 265.19 L536.40 264.68 L537.94 263.06 L539.49 261.49 L541.03 259.94 L542.57 258.44 L543.38 257.66 L544.11 256.96 L545.65 255.52 L547.20 254.10 L548.74 252.71 L550.28 251.36 L551.70 250.13 L551.82 250.02 L553.37 248.72 L554.91 247.44 L556.45 246.18 L557.99 244.95 L559.54 243.74 L561.01 242.60 L561.08 242.54 L562.62 241.38 L564.16 240.23 L565.71 239.10 L567.25 237.99 L568.79 236.89 L570.33 235.82 L571.42 235.07 L571.88 234.76 L573.42 233.72 L574.96 232.69 L576.50 231.68 L578.05 230.69 L579.59 229.71" stroke="#00a800"/><path d="M544.11 345.21 L545.65 340.89 L545.80 340.49 L547.20 336.80 L548.73 332.96 L548.74 332.93 L550.28 329.25 L551.82 325.74 L551.97 325.43 L553.37 322.39 L554.91 319.19 L555.55 317.90 L556.45 316.13 L557.99 313.18 L559.53 310.37 L559.54 310.36 L561.08 307.63 L562.62 305.01 L563.94 302.84 L564.16 302.47 L565.71 300.03 L567.25 297.66 L568.79 295.37 L568.83 295.31 L570.33 293.15 L571.88 290.99 L573.42 288.90 L574.27 287.78 L574.96 286.87 L576.50 284.90 L578.05 282.97 L579.59 281.10 L580.31 280.25" stroke="#0000ff"/></g>
<rect x="79.85" y="4.60" width="497.60" height="307.65" fill="none" stroke="#000" stroke-width="1.45"/>
<path d="M118.41 312.25 v-10.00 M118.41 4.60 v10.00 M156.97 312.25 v-5.10 M156.97 4.60 v5.10 M195.53 312.25 v-10.00 M195.53 4.60 v10.00 M234.09 312.25 v-5.10 M234.09 4.60 v5.10 M272.65 312.25 v-10.00 M272.65 4.60 v10.00 M311.21 312.25 v-5.10 M311.21 4.60 v5.10 M349.77 312.25 v-10.00 M349.77 4.60 v10.00 M388.33 312.25 v-5.10 M388.33 4.60 v5.10 M426.89 312.25 v-10.00 M426.89 4.60 v10.00 M465.45 312.25 v-5.10 M465.45 4.60 v5.10 M504.01 312.25 v-10.00 M504.01 4.60 v10.00 M542.57 312.25 v-5.10 M542.57 4.60 v5.10 M79.85 284.01 h5.10 M577.45 284.01 h-5.10 M79.85 267.50 h5.10 M577.45 267.50 h-5.10 M79.85 255.78 h5.10 M577.45 255.78 h-5.10 M79.85 246.69 h5.10 M577.45 246.69 h-5.10 M79.85 239.26 h5.10 M577.45 239.26 h-5.10 M79.85 232.98 h5.10 M577.45 232.98 h-5.10 M79.85 227.54 h5.10 M577.45 227.54 h-5.10 M79.85 222.74 h5.10 M577.45 222.74 h-5.10 M79.85 218.45 h10.00 M577.45 218.45 h-10.00 M79.85 190.21 h5.10 M577.45 190.21 h-5.10 M79.85 173.70 h5.10 M577.45 173.70 h-5.10 M79.85 161.98 h5.10 M577.45 161.98 h-5.10 M79.85 152.89 h5.10 M577.45 152.89 h-5.10 M79.85 145.46 h5.10 M577.45 145.46 h-5.10 M79.85 139.18 h5.10 M577.45 139.18 h-5.10 M79.85 133.74 h5.10 M577.45 133.74 h-5.10 M79.85 128.94 h5.10 M577.45 128.94 h-5.10 M79.85 124.65 h10.00 M577.45 124.65 h-10.00 M79.85 96.41 h5.10 M577.45 96.41 h-5.10 M79.85 79.90 h5.10 M577.45 79.90 h-5.10 M79.85 68.18 h5.10 M577.45 68.18 h-5.10 M79.85 59.09 h5.10 M577.45 59.09 h-5.10 M79.85 51.66 h5.10 M577.45 51.66 h-5.10 M79.85 45.38 h5.10 M577.45 45.38 h-5.10 M79.85 39.94 h5.10 M577.45 39.94 h-5.10 M79.85 35.14 h5.10 M577.45 35.14 h-5.10 M79.85 30.85 h10.00 M577.45 30.85 h-10.00" fill="none" stroke="#000" stroke-width="1.2"/>
<g><text x="118.41" y="334.2" text-anchor="middle">2</text><text x="195.53" y="334.2" text-anchor="middle">4</text><text x="272.65" y="334.2" text-anchor="middle">6</text><text x="349.77" y="334.2" text-anchor="middle">8</text><text x="426.89" y="334.2" text-anchor="middle">10</text><text x="504.01" y="334.2" text-anchor="middle">12</text></g>
<g><text x="76.00" y="36.40" text-anchor="end">10</text><text x="75.50" y="130.70" text-anchor="end">1</text><text x="75.40" y="224.60" text-anchor="end">0.1</text><text x="75.00" y="318.40" text-anchor="end">0.01</text></g>
<text x="104.6" y="41.9">Fermi trimers (</text><text transform="translate(255.0 41.9) scale(0.75 1)" font-style="italic">ℓ</text><text transform="translate(264.2 41.9) scale(1.17 1)">=</text><text x="280.5" y="41.9">1)</text>
<g transform="translate(18.80 0) rotate(-90)"><text x="-212.86" y="0.00">(</text><path d="M-203.0 -17.5 V3.8 M-181.9 -17.5 V3.8" stroke="#000" stroke-width="1.35" fill="none"/><text x="-200.08" y="0.00">E</text><path d="M-177.2 -6.7 H-164.3" stroke="#000" stroke-width="1.45" fill="none"/><text transform="translate(-162.60 0.00) scale(1.250 1)" font-style="italic">ε</text><text x="-150.50" y="4.10" font-style="italic" font-size="17.7">b</text><text x="-141.05" y="0.00">)</text><path d="M-132.9 3.8 L-125.0 -17.8" stroke="#000" stroke-width="1.3" fill="none"/><text transform="translate(-125.30 0.00) scale(1.200 1)" font-style="italic">ε</text><text x="-112.83" y="4.10" font-style="italic" font-size="17.7">b</text></g>
<g><path d="M281.0 364.9 L284.4 362.9 L289.9 376.4 L296.5 351.9 L377.1 351.9" fill="none" stroke="#000" stroke-width="1.5" stroke-linejoin="miter"/><path d="M284.0 363.4 L289.6 376.9" fill="none" stroke="#000" stroke-width="2.45"/><text transform="translate(300.6 374.25) scale(1 0.9)" font-style="italic">m</text><path d="M323.2 366.4 V378.4 M319.9 369.7 L323.2 366.4 L326.6 369.7" fill="none" stroke="#000" stroke-width="1"/><path d="M333.2 378.3 L339.9 357.8" fill="none" stroke="#000" stroke-width="1.4"/><text transform="translate(343.8 374.25) scale(1 0.9)" font-style="italic">m</text><path d="M366.5 366.3 V378.1 M363.2 374.7 L366.5 378.1 L369.9 374.7" fill="none" stroke="#000" stroke-width="1"/></g>
</svg>
</body></html>
